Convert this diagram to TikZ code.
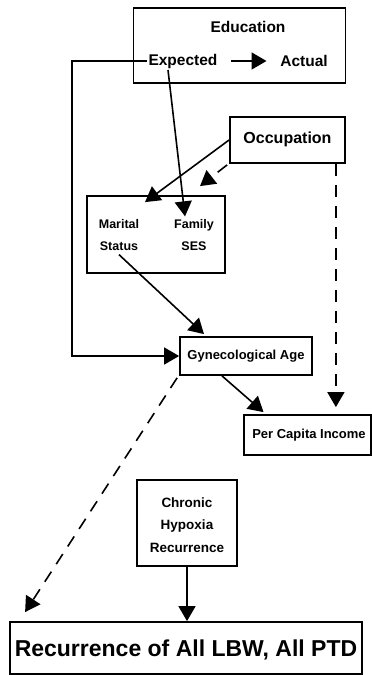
\documentclass[tikz,border=0pt]{standalone}
\usepackage{fontspec}
\setmainfont{Liberation Sans}
\usetikzlibrary{arrows.meta}
\begin{document}
\begin{tikzpicture}[x=1pt,y=-1pt,
  line width=1.6pt,
  boxed/.style={draw,line width=1.8pt,inner sep=0pt},
  lbl/.style={font=\bfseries\fontsize{#1}{#1}\selectfont,inner sep=1pt,align=center},
  lbl/.default=13,
  arr/.style={-{Triangle[length=15pt,width=17pt]}},
  dsh/.style={dash pattern=on 12pt off 9pt}]
\useasboundingbox[fill=white] (0,0) rectangle (372,675);

% boxes
\node[boxed,minimum width=212pt,minimum height=75pt] (edu) at (239.5,45.5) {};
\node[boxed,minimum width=115pt,minimum height=46pt] (occ) at (287.5,140) {};
\node[boxed,minimum width=138pt,minimum height=77pt] (mfb) at (156,234.5) {};
\node[boxed,minimum width=132pt,minimum height=38pt] (gyn) at (246,356) {};
\node[boxed,minimum width=127pt,minimum height=40pt] (pci) at (307.5,435) {};
\node[boxed,minimum width=100pt,minimum height=86pt] (chr) at (187,523) {};
\node[boxed,minimum width=352pt,minimum height=52pt] (rec) at (186,648) {};

% labels
\node[lbl=15.5] (edut) at (248,27) {Education};
\node[lbl=15.5] (exp) at (183,61) {Expected};
\node[lbl=15.5] (act) at (304,61) {Actual};
\node[lbl=16] (occt) at (287.5,139) {Occupation};
\node[lbl=12.5] (mar) at (119,235) {Marital\\[10pt]Status};
\node[lbl=12.5] (fam) at (194,235) {Family\\[10pt]SES};
\node[lbl=13] (gynt) at (246,356) {Gynecological Age};
\node[lbl=13] (pcit) at (309,435) {Per Capita Income};
\node[lbl=13.5] (chrt) at (187,525) {Chronic\\[9pt]Hypoxia\\[9pt]Recurrence};
\node[lbl=23] (rect) at (186,650) {Recurrence of All LBW, All PTD};

% connectors
\coordinate (lbend) at (72,62);
\coordinate (occdash) at ([xshift=-10pt]occ.south east);
\draw[arr,shorten <=12pt,shorten >=12pt] (exp.east) -- (act.west);
\draw[arr] (exp.west) -- (exp.west -| lbend) |- (gyn.west);
\draw[arr] ([xshift=-15pt]exp.south) -- ([shift={(-9,-1)}]fam.north);
\draw[arr] (occ.west) -- ([shift={(-11,7)}]mfb.north);
\draw[arr,dsh] ([shift={(-2,1)}]occ.south west) -- ([shift={(44,-9)}]mfb.north);
\draw[arr,dsh,shorten >=7pt] (occdash) -- (occdash |- pci.north);
\draw[arr] ([yshift=-2pt]mar.south) -- ([shift={(-42,-2)}]gyn.north);
\draw[arr] ([xshift=-24pt]gyn.south) -- ([shift={(-44,-2)}]pci.north);
\draw[arr,dsh] ([shift={(-2,2)}]gyn.south west) -- ([shift={(16,-9)}]rec.north west);
\draw[arr] (chr.south) -- (rec.north -| chr.south);
\end{tikzpicture}
\end{document}
